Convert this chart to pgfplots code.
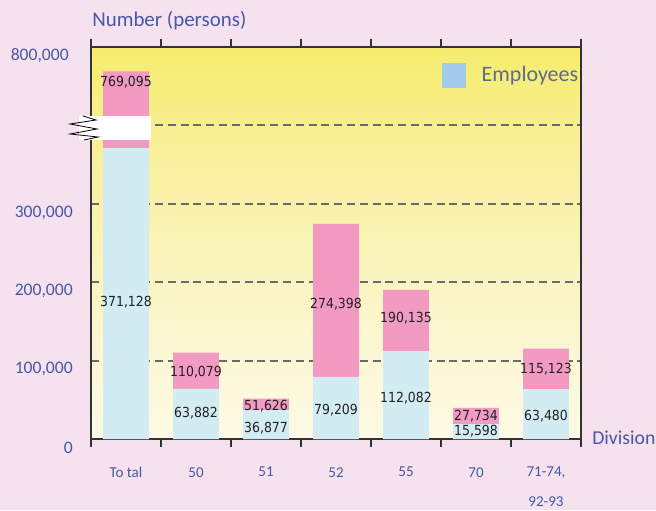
\documentclass[border=0pt]{standalone}
\usepackage{fontspec}
\setmainfont{Carlito}
\newfontfamily\lblfont{DejaVu Sans Condensed}
\usepackage{pgfplots}
\usepackage{pgfplotstable}
\pgfplotsset{compat=1.18}
\definecolor{pagebg}{HTML}{F6E2EF}
\definecolor{pinkbar}{HTML}{F29AC2}
\definecolor{bluebar}{HTML}{D3ECF4}
\definecolor{legblue}{HTML}{A2CBEB}
\definecolor{txtblue}{HTML}{4658A8}
\definecolor{legtxt}{HTML}{5E6C8C}
\definecolor{axdark}{HTML}{333333}
\definecolor{gridgray}{HTML}{6A6A6A}
\definecolor{lbltext}{HTML}{222222}
\definecolor{g0}{HTML}{FFFEFA}
\definecolor{g1}{HTML}{FEFCEE}
\definecolor{g2}{HTML}{FBF6CC}
\definecolor{g3}{HTML}{F8F0A0}
\definecolor{g4}{HTML}{F5EB5C}
\definecolor{g5}{HTML}{F3E81A}
\pgfdeclareverticalshading{plotbg}{100bp}{color(0bp)=(g0); color(20bp)=(g1); color(40bp)=(g2); color(60bp)=(g3); color(80bp)=(g4); color(100bp)=(g5)}

\pgfplotstableread{
x pink blue
0 469000 371128
1 110079 63882
2 51626 36877
3 274398 79209
4 190135 112082
5 39600 19000
6 115123 63480
}\bars

\pgfplotstableread{
x y label
0 456000 769,095
0 175000 371,128
1 86000 110,079
1 34500 63,882
2 43500 51,626
2 15300 36,877
3 172500 274,398
3 38300 79,209
4 154600 190,135
4 53700 112,082
5 30700 27,734
5 11500 15,598
6 89500 115,123
6 30700 63,480
}\labels

\begin{document}
\begin{tikzpicture}
\path[use as bounding box, fill=pagebg] (0,0) rectangle (492pt,382.5pt);
\begin{axis}[
  at={(68.25pt,53.25pt)}, anchor=south west,
  scale only axis, width=367.5pt, height=294pt,
  xmin=-0.5, xmax=6.5, ymin=0, ymax=500000,
  axis background/.style={shading=plotbg},
  axis line style={axdark, line width=1.5pt},
  xtick={-0.5,0.5,...,6.5}, x tick label as interval,
  xticklabels={To\hspace{2.5pt}tal,50,51,52,55,70,{71-74,\\92-93}},
  xticklabel style={font=\fontsize{11.3}{22.5}\selectfont, text=txtblue, align=center, anchor=north, inner sep=0pt, yshift=-15pt},
  tick align=outside, major tick length=6pt,
  x tick style={axdark, line width=1.2pt},
  ytick={0,100000,200000,300000,400000,500000},
  yticklabels={0,{100,000},{200,000},{300,000},{},{800,000\kern3pt}},
  y tick style={draw=none},
  yticklabel style={font=\fontsize{13.2}{15}\selectfont, text=txtblue, anchor=east, inner sep=0pt, xshift=-7.5pt, yshift=-6.5pt},
  scaled y ticks=false,
  ymajorgrids, major grid style={gridgray, line width=1.4pt, dash pattern=on 6pt off 3.6pt},
  /pgf/number format/assume math mode=true,
  clip=false,
  legend style={at={(0.716,0.9286)}, anchor=west, draw=none, fill=none, inner sep=0pt,
    font=\fontsize{16.5}{18}\selectfont, text=legtxt, nodes={inner sep=0pt},
    /tikz/every odd column/.append style={column sep=12pt}},
]
\addplot[ybar, bar width=0.657, bar shift=0pt, fill=pinkbar, draw=none, forget plot] table[x=x,y=pink]{\bars};
\addplot[ybar, bar width=0.657, bar shift=0pt, fill=bluebar, draw=none, forget plot] table[x=x,y=blue]{\bars};
\addplot[draw=none, forget plot, nodes near coords, point meta=explicit symbolic,
  nodes near coords style={anchor=center, font=\lblfont\fontsize{10.4}{12}\selectfont, text=lbltext, inner sep=0pt, text depth=0pt}]
  table[x=x, y=y, meta=label]{\labels};
\addlegendimage{legend image code/.code={\fill[legblue] (0pt,-9pt) rectangle (17.25pt,9pt);}}
\addlegendentry{Employees}
\end{axis}
\begin{scope}[shift={(0pt,382.5pt)}, x=0.75pt, y=-0.75pt]
\fill[white] (79,116) rectangle (151,140);
\draw[black, line width=0.6pt] (83,116) -- (96,120) -- (70,124) -- (97,129) -- (70,134) -- (98,137) -- (84,140);
\node[anchor=base west, text=txtblue, font=\fontsize{15.7}{18}\selectfont, inner sep=0pt] at (92,27) {Number (persons)};
\node[anchor=base west, text=txtblue, font=\fontsize{14.8}{18}\selectfont, inner sep=0pt] at (592,445) {Division};
\end{scope}
\end{tikzpicture}
\end{document}
